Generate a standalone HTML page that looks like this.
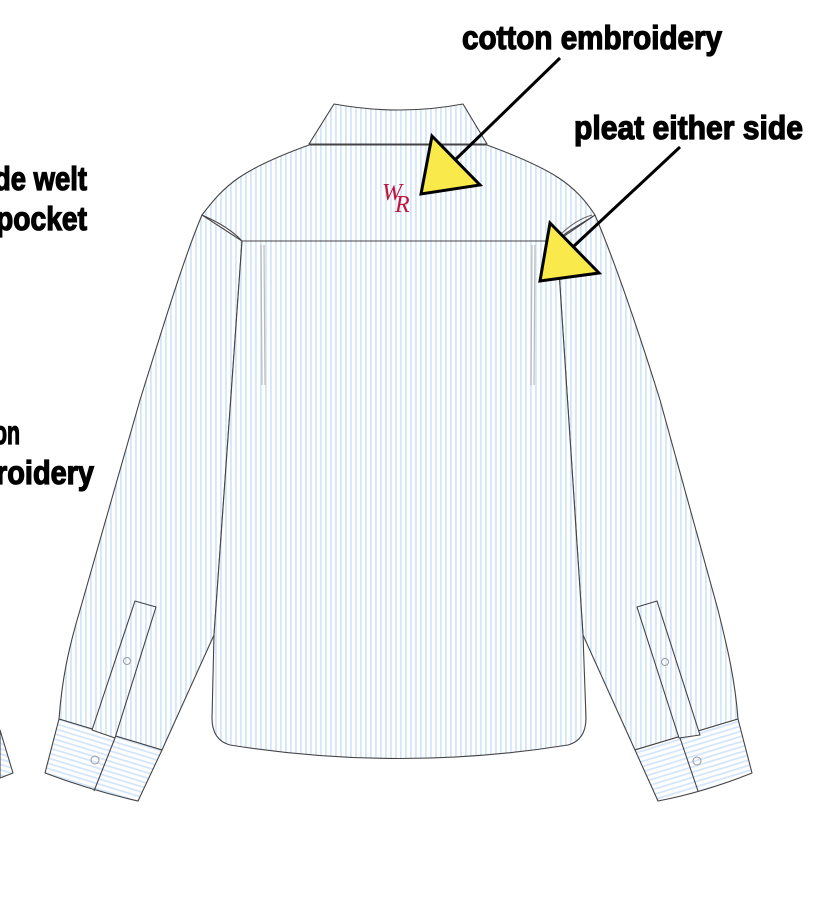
<!DOCTYPE html>
<html><head><meta charset="utf-8"><style>
html,body{margin:0;padding:0;background:#fff;width:813px;height:915px;overflow:hidden}
svg{display:block}
.t{font-family:"Liberation Sans Narrow","Liberation Sans",sans-serif;font-weight:bold;font-size:33px;fill:#000;stroke:#000;stroke-width:1.3}
</style></head><body>
<svg width="813" height="915" viewBox="0 0 813 915" xmlns="http://www.w3.org/2000/svg">
<defs>
<pattern id="v" width="5" height="10" patternUnits="userSpaceOnUse"><rect width="5" height="10" fill="#fff"/><rect x="0" width="1.8" height="10" fill="#d4e6f9"/></pattern>
<pattern id="h" width="10" height="5" patternUnits="userSpaceOnUse" patternTransform="rotate(17)"><rect width="10" height="5" fill="#fff"/><rect y="0" width="10" height="1.8" fill="#d4e6f9"/></pattern>
<pattern id="h2" width="10" height="5" patternUnits="userSpaceOnUse" patternTransform="rotate(-17)"><rect width="10" height="5" fill="#fff"/><rect y="0" width="10" height="1.8" fill="#d4e6f9"/></pattern>
</defs>
<g stroke="#444" stroke-width="1.1" stroke-linejoin="round">
<path d="M0,730 L13,773 L0,778 Z" fill="url(#h)"/>
<path d="M202,215 L242,241 L214,635 L162,750 L59,719 C62,680 68,650 80,610 L140,400 C165,320 185,255 202,215 Z" fill="url(#v)"/>
<path d="M595,215 L557,241 L583,635 L635,750 L738,719 C735,680 728,650 718,610 L660,400 C635,320 612,255 595,215 Z" fill="url(#v)"/>
<path d="M334,104 Q400,116 463,104 L487,144 L309,144 Z" fill="url(#v)"/>
<path d="M202,215 C225,185 240,170 309,145 L487,145 C555,170 575,185 595,215 C580,225 565,232 557,241 L242,241 C232,230 218,222 202,215 Z" fill="url(#v)"/>
<path d="M242,241 L557,241 L583,635 L586,718 Q586,740 568,745 Q400,772 230,745 Q212,740 212,718 L214,635 Z" fill="url(#v)"/>
<path d="M59,719 L162,750 L138,801 Q90,790 45,773 Z" fill="url(#h)"/>
<line x1="115" y1="738" x2="94" y2="791"/>
<path d="M135,601 L156,607 L115,738 L92,730 Z" fill="url(#v)"/>
<path d="M738,719 L635,750 L658,801 Q705,792 752,773 Z" fill="url(#h2)"/>
<line x1="680" y1="738" x2="698" y2="791"/>
<path d="M637,607 L657,601 L700,735 L679,738 Z" fill="url(#v)"/>
<path d="M560,235 Q575,220 592,215" fill="none" stroke="#666"/>
</g>
<g stroke="#bbb" stroke-width="1.2">
<line x1="261" y1="245" x2="262" y2="385"/><line x1="264" y1="245" x2="265" y2="385"/>
<line x1="532" y1="245" x2="531" y2="385"/><line x1="535" y1="245" x2="534" y2="385"/>
</g>
<g fill="none" stroke="#999" stroke-width="1">
<circle cx="127" cy="661" r="3.5"/><circle cx="95" cy="760" r="4"/>
<circle cx="665" cy="662" r="3.5"/><circle cx="697" cy="761" r="4"/>
</g>
<text x="382" y="200" font-family="Liberation Serif,serif" font-style="italic" font-size="24" fill="#c0143c">W</text>
<text x="395" y="212" font-family="Liberation Serif,serif" font-style="italic" font-size="24" fill="#c0143c">R</text>
<g stroke="#000" stroke-width="3" stroke-linejoin="miter">
<line x1="560" y1="58" x2="455" y2="160"/>
<polygon points="432,136 480,185 421,194" fill="#f9e94a"/>
<line x1="680" y1="147" x2="574" y2="246"/>
<polygon points="550,223 599,273 540,281" fill="#f9e94a"/>
</g>
<text class="t" x="462" y="49" textLength="260" lengthAdjust="spacingAndGlyphs">cotton embroidery</text>
<text class="t" x="574" y="139" textLength="229" lengthAdjust="spacingAndGlyphs">pleat either side</text>
<text class="t" x="-6" y="190" textLength="93" lengthAdjust="spacingAndGlyphs">de welt</text>
<text class="t" x="-4" y="230" textLength="91" lengthAdjust="spacingAndGlyphs">pocket</text>
<text class="t" x="-6" y="444" textLength="26" lengthAdjust="spacingAndGlyphs">on</text>
<text class="t" x="-4" y="484" textLength="98" lengthAdjust="spacingAndGlyphs">roidery</text>
</svg>
</body></html>
